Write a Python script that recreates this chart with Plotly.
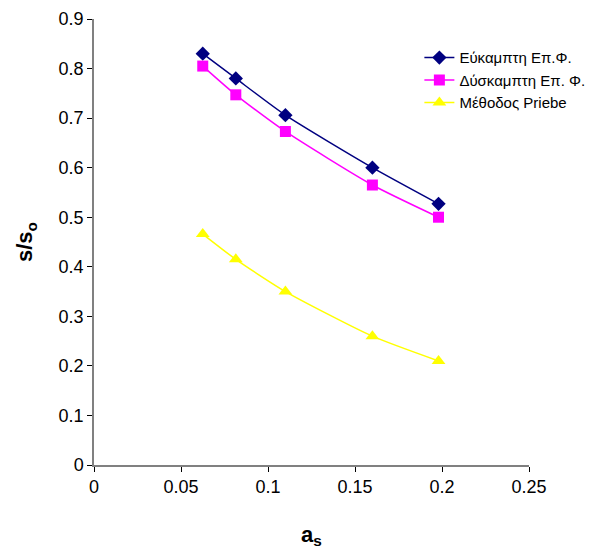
import plotly.graph_objects as go

a_s = [0.0625, 0.0815, 0.11, 0.16, 0.198]
eukampti = [0.830, 0.780, 0.706, 0.600, 0.527]
duskampti = [0.805, 0.747, 0.673, 0.565, 0.500]
priebe = [0.466, 0.415, 0.350, 0.260, 0.210]

x_ticks = [0, 0.05, 0.1, 0.15, 0.2, 0.25]
x_labels = ["0", "0.05", "0.1", "0.15", "0.2", "0.25"]
y_ticks = [0, 0.1, 0.2, 0.3, 0.4, 0.5, 0.6, 0.7, 0.8, 0.9]
y_labels = ["0", "0.1", "0.2", "0.3", "0.4", "0.5", "0.6", "0.7", "0.8", "0.9"]

names = ["Εύκαμπτη Επ.Φ.", "Δύσκαμπτη Επ. Φ.", "Μέθοδος Priebe"]
colors = ["#000080", "#FF00FF", "#FFFF00"]
symbols = ["diamond", "square", "triangle-up"]
sizes = [11, 11, 12]

fig = go.Figure()
for ys, n, c, s, sz in zip([eukampti, duskampti, priebe], names, colors, symbols, sizes):
    fig.add_trace(go.Scatter(
        x=a_s, y=ys, name=n, mode="lines+markers",
        line=dict(color=c, width=1.5, shape="spline", smoothing=0.6),
        marker=dict(symbol=s, size=sz, color=c, line=dict(width=0)),
    ))

axis_common = dict(
    showgrid=False, zeroline=False, showline=True, linecolor="#808080", linewidth=1.5,
    ticks="outside", ticklen=5, tickcolor="#000000", tickwidth=1, automargin=False,
    tickfont=dict(family="Liberation Sans, Arial", size=18, color="#000000"),
)

fig.update_layout(
    width=608, height=551,
    margin=dict(l=94, r=79, t=19, b=86),
    paper_bgcolor="white", plot_bgcolor="white",
    showlegend=True,
    legend=dict(x=0.748, y=0.95, xanchor="left", yanchor="top",
                font=dict(family="Liberation Sans, Arial", size=15, color="#000000"),
                bgcolor="rgba(0,0,0,0)", tracegroupgap=0, itemwidth=30,
                borderwidth=0),
    xaxis=dict(range=[0, 0.25], tickvals=x_ticks, ticktext=x_labels,
               title=dict(text="<b>a<sub>s</sub></b>", standoff=30,
                          font=dict(family="Liberation Sans, Arial", size=22, color="#000000")),
               **axis_common),
    yaxis=dict(range=[0, 0.9], tickvals=y_ticks, ticktext=y_labels,
               title=dict(text="<b>s/s<sub>o</sub></b>", standoff=20,
                          font=dict(family="Liberation Sans, Arial", size=22, color="#000000")),
               **axis_common),
)

fig.write_html("out.html")
